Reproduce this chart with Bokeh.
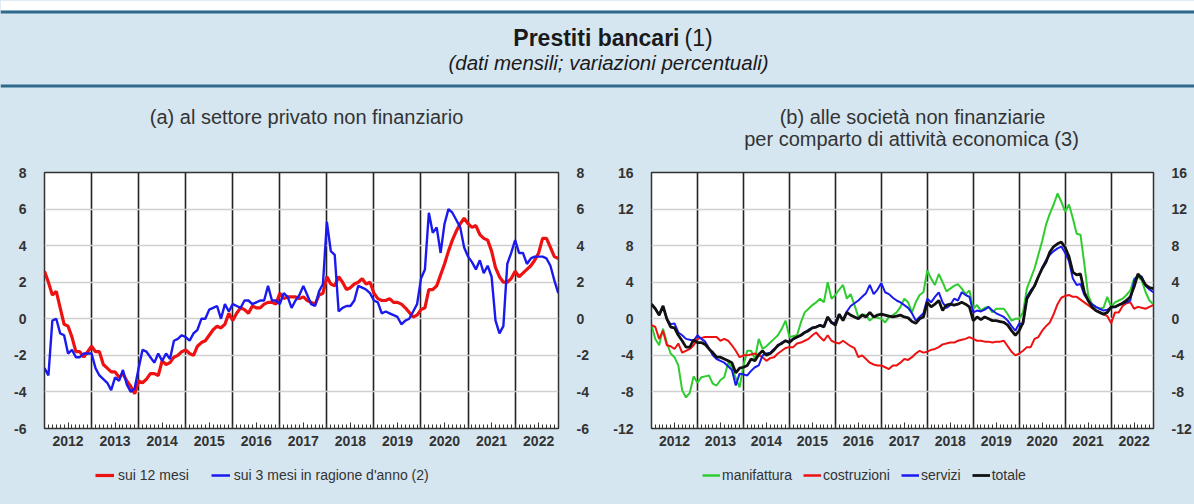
from bokeh.plotting import figure
from bokeh.models import FixedTicker, LinearAxis, Range1d, Label, Legend, LegendItem, Span, BoxAnnotation
from bokeh.layouts import column, row
from bokeh.embed import file_html
from bokeh.resources import INLINE

BG = "#d5e6f1"
RULE = "#2f6a8d"
FONT = "Liberation Sans"
TXT = "#333333"

years = list(range(2012, 2023))
year_labels = [str(y) for y in years]
months = [2012 + i / 12 for i in range(132)]

# (a) private non-financial sector
sui_12_mesi = [
    2.6, 2.0, 1.3, 1.5, 0.6, -0.3, -0.4, -1.0, -1.8, -1.8, -2.1, -1.8,
    -1.5, -1.8, -1.8, -2.5, -2.7, -2.9, -2.9, -3.2, -3.0, -3.4, -3.7, -4.1,
    -3.4, -3.5, -3.3, -3.0, -3.0, -3.1, -2.3, -2.5, -2.4, -2.1, -2.0, -1.8,
    -1.7, -1.9, -2.0, -1.5, -1.3, -1.2, -0.9, -0.6, -0.4, -0.5, -0.3, 0.3,
    -0.1, 0.3, 0.6, 0.5, 0.3, 0.7, 0.6, 0.6, 0.8, 0.9, 0.9, 0.8,
    1.4, 1.1, 1.2, 1.2, 1.2, 1.1, 1.2, 1.0, 0.9, 0.8, 1.3, 1.4,
    2.3, 1.9, 1.8, 2.3, 2.0, 1.6, 1.7, 1.9, 2.0, 2.2, 1.9, 2.0,
    1.4, 1.1, 1.0, 1.0, 1.1, 0.9, 0.9, 0.8, 0.6, 0.35, 0.1, 0.2,
    0.5, 0.6, 1.6, 1.6, 1.8, 2.4, 3.0, 3.7, 4.3, 4.8, 5.2, 5.5,
    5.2, 5.0, 5.1, 4.6, 4.4, 4.3, 3.7, 2.8, 2.3, 2.0, 2.0, 2.2,
    2.6, 2.3, 2.5, 2.7, 2.9, 3.2, 3.6, 4.4, 4.4, 3.9, 3.4, 3.3,
]
sui_3_mesi = [
    -2.7, -3.1, -0.1, 0.0, -0.8, -0.9, -1.9, -1.7, -2.1, -2.1, -1.9, -1.9,
    -1.9, -2.7, -3.1, -3.3, -3.5, -3.9, -3.2, -3.4, -2.8, -3.6, -4.0, -3.8,
    -2.7, -1.7, -1.8, -2.1, -2.4, -1.9, -2.3, -1.9, -2.2, -1.2, -1.1, -0.9,
    -1.0, -1.2, -0.8, -0.6, 0.0, 0.0, 0.5, 0.6, 0.7, 0.0, 0.8, 0.4,
    0.8, 0.7, 0.6, 1.0, 1.0, 0.8, 0.9, 1.0, 1.0, 1.8, 1.0, 1.0,
    0.8, 1.4, 1.2, 0.6, 1.0, 1.3, 1.8, 1.3, 0.8, 0.7, 1.5, 1.9,
    5.3, 3.7, 3.5, 0.4, 0.6, 0.7, 0.7, 1.0, 1.8, 1.7, 1.6, 1.4,
    1.0, 0.9, 0.3, 0.4, 0.3, 0.2, 0.1, -0.3, -0.1, 0.0, 0.4, 0.8,
    2.2, 2.7, 5.8, 4.7, 5.0, 3.6, 5.2, 6.0, 5.8, 5.4, 5.0, 3.9,
    3.4, 3.1, 2.7, 3.2, 2.5, 2.9, 2.3, -0.1, -0.8, -0.4, 3.0, 3.6,
    4.3, 3.6, 3.6, 3.0, 3.3, 3.4, 3.4, 3.4, 3.3, 2.9, 2.1, 1.4,
]

# (b) non-financial companies by sector
manifattura = [
    -0.7, -2.2, -2.9, -1.1, -2.6, -3.8, -4.2, -5.1, -7.8, -8.6, -8.1, -6.3,
    -7.0, -6.4, -6.3, -6.2, -7.1, -7.3, -6.7, -6.4, -4.8, -5.3, -6.5, -7.5,
    -5.1, -3.5, -3.5, -4.4, -2.2, -3.3, -3.0, -2.6, -2.2, -1.8, -1.1, -0.2,
    -2.0, -1.9, -1.8, -0.4, 0.7, 1.1, 1.5, 1.8, 2.2, 1.8, 4.0, 2.2,
    2.6, 3.2, 3.7, 2.2, 2.7, 1.5, 0.2, 0.5, 0.4, -0.2, 0.2, 0.1,
    0.0, -0.4, 0.2, 0.4, 0.7, 1.3, 2.2, 1.8, 0.7, 1.8, 2.6, 2.9,
    5.3, 4.4, 3.7, 4.9, 4.0, 3.0, 3.3, 3.6, 3.8, 3.3, 2.7, 3.1,
    1.1, 1.5, 0.9, 1.2, 1.3, 0.7, 1.1, 1.1, 1.1, 0.5, -0.2, 0.0,
    0.0, 0.7, 3.3, 4.4, 5.5, 7.0, 8.5, 10.3, 11.5, 12.5, 13.7, 12.8,
    11.7, 12.5, 11.0, 9.3, 9.2, 6.0, 2.6, 1.6, 1.3, 1.1, 1.2, 2.4,
    1.3, 1.8, 2.0, 2.2, 2.6, 3.1, 4.4, 4.6, 4.2, 2.9, 2.0, 1.6,
]
costruzioni = [
    -0.7, -0.9, -2.2, -1.3, -2.9, -3.0, -3.3, -2.7, -3.7, -3.5, -3.3, -2.9,
    -2.2, -2.1, -2.0, -2.0, -2.0, -2.0, -2.4, -2.2, -2.4, -2.9, -3.5, -4.2,
    -4.0, -4.0, -3.9, -3.8, -4.0, -4.2, -4.6, -4.3, -4.2, -3.8, -3.5, -3.2,
    -3.1, -3.1, -2.7, -2.6, -2.4, -2.2, -1.8, -1.5, -2.0, -2.4, -1.8, -2.4,
    -2.6, -2.7, -2.4, -2.7, -3.0, -3.2, -4.2, -4.0, -4.4, -4.8, -5.0, -5.1,
    -5.1, -5.3, -5.5, -5.1, -5.1, -4.8, -4.4, -4.5, -4.2, -3.8, -3.5, -3.7,
    -3.6, -3.4, -3.3, -3.1, -2.8, -2.7, -2.6, -2.6, -2.4, -2.3, -2.2, -2.0,
    -2.2, -2.4, -2.4, -2.5, -2.5, -2.6, -2.5, -2.5, -2.4, -3.0, -3.6, -4.0,
    -3.8, -3.5, -3.1, -3.1, -2.2, -2.0, -1.3, -0.8, -0.4, 0.5, 1.6, 2.3,
    2.5, 2.6, 2.4, 2.4, 2.1, 1.8, 1.5, 1.2, 0.9, 0.7, 0.5, 0.3,
    -0.5, 0.7, 0.7, 1.4, 1.7, 1.8, 1.1, 1.3, 1.2, 1.1, 1.3, 1.5,
]
servizi = [
    1.6, 1.1, 0.4, 1.4, 0.0, -0.6, -0.5, -1.5, -1.8, -2.2, -2.3, -2.4,
    -1.8, -2.2, -2.5, -3.2, -4.0, -4.4, -4.6, -4.8, -5.2, -5.6, -7.3, -6.0,
    -6.1, -6.2, -5.7, -5.3, -5.1, -4.0, -3.8, -3.7, -3.3, -3.0, -2.6, -2.4,
    -2.5, -2.2, -2.0, -1.8, -1.5, -1.2, -1.0, -0.9, -0.7, -0.8, 0.2, -0.5,
    -0.4, 0.5, -0.1, 0.8, 1.4, 1.7, 2.0, 2.4, 2.8, 3.7, 2.7, 3.2,
    3.9, 2.9, 2.7, 2.3, 2.0, 1.8, 1.5, 1.2, 0.6, -0.2, 0.2, 0.6,
    2.2, 1.8, 2.4, 2.9, 1.8, 1.2, 1.5, 2.2, 2.0, 2.9, 2.6, 2.4,
    0.7, 0.9, 0.8, 1.0, 1.3, 0.9, 0.6, 0.4, 0.2, -0.2, -0.8, -1.3,
    -0.5, -0.6, 2.4, 3.1, 3.6, 4.6, 5.6, 6.4, 7.0, 7.4, 7.7, 7.9,
    7.2, 6.3, 4.4, 3.7, 3.8, 2.6, 2.0, 1.6, 1.3, 1.1, 0.9, 1.0,
    1.2, 1.3, 1.5, 1.7, 1.8, 2.0, 4.2, 4.8, 4.6, 3.6, 3.2, 2.9,
]
totale = [
    1.6, 1.1, 0.4, 1.4, 0.0, -0.9, -1.0, -1.8, -2.4, -3.1, -3.1, -2.3,
    -2.6, -2.6, -2.8, -3.3, -3.7, -4.2, -4.2, -4.4, -4.6, -4.8, -5.9, -5.4,
    -5.3, -5.1, -4.4, -4.6, -3.9, -3.5, -4.0, -3.8, -3.4, -2.9, -2.7, -2.4,
    -2.6, -2.2, -2.0, -1.8, -1.5, -1.3, -1.0, -0.9, -0.7, -0.9, 0.2, -0.4,
    -0.7, 0.5, -0.2, 0.7, 0.4, 0.2, 0.0, 0.4, 0.2, 0.7, 0.2, 0.4,
    0.5, 0.4, 0.3, 0.2, 0.3, 0.4, 0.2, 0.1, -0.3, -0.5, 0.0, 0.2,
    1.8, 1.3, 1.6, 2.0, 0.9, 1.5, 1.6, 1.5, 1.6, 1.8, 1.6, 1.3,
    -0.2, 0.2, -0.1, 0.2, 0.0, -0.2, -0.2, -0.3, -0.4, -0.7, -1.3, -1.8,
    -1.3, -0.4, 2.2, 2.9, 3.6, 4.6, 5.5, 6.2, 7.3, 7.9, 8.2, 8.4,
    7.8, 6.8, 5.1, 4.8, 4.9, 2.9, 2.0, 1.3, 0.9, 0.7, 0.5, 0.7,
    1.3, 1.3, 1.5, 1.7, 2.0, 2.4, 3.5, 4.9, 4.4, 3.7, 3.4, 3.3,
]

left_series = [("sui 12 mesi", sui_12_mesi, "#ee1111", 3.2),
               ("sui 3 mesi in ragione d'anno (2)", sui_3_mesi, "#1a1aee", 2.4)]
right_series = [("manifattura", manifattura, "#2ecc2e", 2.0),
                ("costruzioni", costruzioni, "#ee1111", 2.0),
                ("servizi", servizi, "#1a1aee", 2.0),
                ("totale", totale, "#111111", 2.8)]


def style_axis(ax, standoff, ticks):
    ax.ticker = FixedTicker(ticks=ticks)
    ax.major_label_overrides = {t: str(t) for t in ticks}
    ax.axis_line_color = None
    ax.major_tick_line_color = None
    ax.minor_tick_line_color = None
    ax.major_label_text_font = FONT
    ax.major_label_text_font_size = "14px"
    ax.major_label_text_font_style = "bold"
    ax.major_label_text_color = TXT
    ax.major_label_standoff = standoff


def make_panel(width, bl, br, ymin, ymax, ystep, series, standoff):
    p = figure(width=width, height=296, output_backend="svg", toolbar_location=None,
               x_range=Range1d(months[0], months[-1] + 0.005), y_range=Range1d(ymin, ymax),
               min_border_left=bl, min_border_right=br, min_border_top=12, min_border_bottom=28,
               background_fill_color="white", border_fill_color=BG)
    p.outline_line_color = "#333333"
    p.outline_line_width = 1.5

    yticks = list(range(ymin, ymax + 1, ystep))
    style_axis(p.yaxis[0], standoff, yticks)
    rax = LinearAxis()
    style_axis(rax, standoff, yticks)
    p.add_layout(rax, "right")

    xa = p.xaxis[0]
    xa.ticker = FixedTicker(ticks=[y + 0.5 for y in years],
                            minor_ticks=[months[0] + k / 12 for k in range(1, 131)])
    xa.major_label_overrides = {y + 0.5: lab for y, lab in zip(years, year_labels)}
    xa.axis_line_color = None
    xa.major_tick_line_color = "#333333"
    xa.minor_tick_line_color = "#333333"
    xa.major_tick_in = 6
    xa.major_tick_out = 0
    xa.minor_tick_in = 4
    xa.minor_tick_out = 0
    xa.major_label_text_font = FONT
    xa.major_label_text_font_size = "14px"
    xa.major_label_text_font_style = "bold"
    xa.major_label_text_color = TXT
    xa.major_label_standoff = 7

    p.ygrid.ticker = FixedTicker(ticks=yticks)
    p.ygrid.grid_line_color = "#cfcfcf"
    p.ygrid.grid_line_width = 1.5
    p.xgrid.ticker = FixedTicker(ticks=years[1:])
    p.xgrid.grid_line_color = "#222222"
    p.xgrid.grid_line_width = 1.6

    for name, vals, color, w in series:
        p.line(months, vals, line_color=color, line_width=w)
    return p


left = make_panel(600, 44, 42, -6, 8, 2, left_series, 12)
right = make_panel(594, 51, 32, -12, 16, 4, right_series, 12)

# header band with titles
head = figure(width=1194, height=160, output_backend="svg", toolbar_location=None,
              x_range=Range1d(0, 1194), y_range=Range1d(0, 160), min_border=0,
              x_axis_type=None, y_axis_type=None,
              background_fill_color=BG, border_fill_color=BG)
head.outline_line_color = None
head.grid.visible = False
head.add_layout(BoxAnnotation(bottom=150, top=160, fill_color="white", fill_alpha=1, line_alpha=0))
head.add_layout(Span(location=148.5, dimension="width", line_color=RULE, line_width=3))
head.add_layout(Span(location=74.5, dimension="width", line_color=RULE, line_width=3))


def add_text(fig, x, y, text, size, style="normal", align="center", color="#1a1a1a"):
    fig.add_layout(Label(x=x, y=y, text=text, text_align=align, text_baseline="middle",
                         text_font=FONT, text_font_style=style, text_font_size=size,
                         text_color=color))


add_text(head, 679, 123, "Prestiti bancari", "23px", "bold", "right")
add_text(head, 684, 123, "(1)", "23px", "normal", "left")
add_text(head, 608, 98, "(dati mensili; variazioni percentuali)", "20.5px", "italic")
add_text(head, 306, 44, "(a) al settore privato non finanziario", "20px", color=TXT)
add_text(head, 912, 44, "(b) alle società non finanziarie", "20px", color=TXT)
add_text(head, 911, 22, "per comparto di attività economica (3)", "20px", color=TXT)

# footer band with legends
foot = figure(width=1194, height=48, output_backend="svg", toolbar_location=None,
              x_range=Range1d(0, 1194), y_range=Range1d(0, 48), min_border=0,
              x_axis_type=None, y_axis_type=None,
              background_fill_color=BG, border_fill_color=BG)
foot.outline_line_color = None
foot.grid.visible = False

nan = float("nan")


def add_legend(series, loc, spacing, standoff, gw):
    items = []
    for name, vals, color, w in series:
        r = foot.line([nan], [nan], line_color=color, line_width=max(w, 2.5))
        items.append(LegendItem(label=name, renderers=[r]))
    leg = Legend(items=items, orientation="horizontal", location=loc,
                 label_text_font=FONT, label_text_font_size="14px", label_text_color=TXT,
                 glyph_width=gw, glyph_height=12, label_standoff=standoff, spacing=spacing,
                 padding=0, margin=0, border_line_color=None, background_fill_alpha=0)
    foot.add_layout(leg)


add_legend(left_series, (95, 21), 22, 4, 19)
add_legend(right_series, (702, 21), 11, 2, 18)

bgstyle = {"background-color": BG}
layout = column(head, row(left, right, styles=bgstyle), foot, styles=bgstyle)
open("out.html", "w").write(file_html(layout, INLINE))
